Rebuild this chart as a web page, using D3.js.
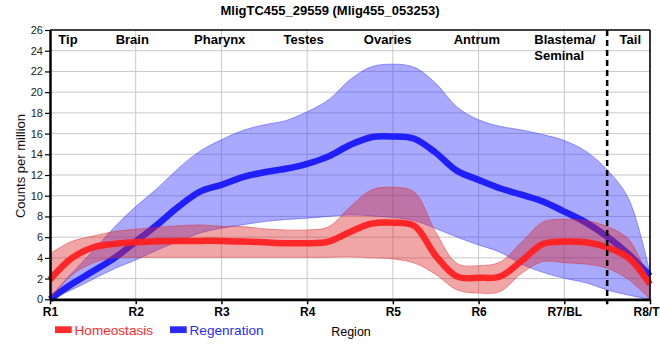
<!DOCTYPE html>
<html>
<head>
<meta charset="utf-8">
<script src="https://cdn.jsdelivr.net/npm/d3@7"></script>
<style>
  html, body { margin: 0; padding: 0; background: #fff; }
  svg { display: block; font-family: "Liberation Sans", Arial, sans-serif; }
</style>
</head>
<body>
<svg id="chart" width="660" height="360"></svg>
<script>
// ---- Data ----
const categories = ["R1", "R2", "R3", "R4", "R5", "R6", "R7/BL", "R8/T"];
const yTicks = [0, 2, 4, 6, 8, 10, 12, 14, 16, 18, 20, 22, 24, 26];
const positions = [1, 1.25, 1.5, 1.75, 2, 2.25, 2.5, 2.75, 3, 3.25, 3.5, 3.75, 4, 4.25, 4.5, 4.75,
                   5, 5.25, 5.5, 5.75, 6, 6.25, 6.5, 6.75, 7, 7.25, 7.5, 7.75, 8];

const homeoMean  = [1.9, 3.95, 5.0, 5.35, 5.5, 5.6, 5.63, 5.64, 5.64, 5.58, 5.5, 5.42, 5.41, 5.57, 6.5, 7.3,
                    7.4, 7.1, 4.2, 2.19, 2.09, 2.2, 3.7, 5.35, 5.57, 5.5, 5.02, 4.0, 1.45];
const homeoUpper = [4.4, 5.57, 6.1, 6.55, 6.76, 6.95, 7.1, 7.18, 7.05, 7.02, 6.8, 6.7, 6.7, 7.0, 8.9, 10.55,
                    10.82, 10.35, 6.5, 3.45, 3.25, 3.6, 5.5, 7.45, 7.73, 7.6, 7.02, 5.8, 1.6];
const homeoLower = [0.0, 2.3, 3.5, 4.0, 4.05, 4.05, 4.05, 4.05, 4.05, 4.05, 4.05, 4.05, 4.05, 4.05, 4.1, 4.0,
                    3.9, 3.5, 2.4, 0.9, 0.6, 0.75, 2.5, 3.64, 3.54, 3.4, 3.0, 1.9, 0.0];

const regenMean  = [0, 1.45, 2.7, 3.98, 5.57, 7.2, 8.95, 10.4, 11.05, 11.8, 12.27, 12.6, 13.08, 13.8, 14.9, 15.65,
                    15.72, 15.5, 14.15, 12.4, 11.53, 10.72, 10.1, 9.45, 8.47, 7.43, 6.05, 4.35, 2.25];
const regenUpper = [0.2, 2.5, 4.66, 6.95, 8.95, 10.7, 12.66, 14.3, 15.4, 16.3, 16.85, 17.25, 18.1, 19.26, 21.2, 22.45,
                    22.7, 22.4, 20.85, 18.55, 17.33, 16.7, 16.35, 15.9, 15.33, 14.3, 12.5, 9.7, 2.5];
const regenLower = [0, 0.9, 1.93, 2.95, 3.8, 4.75, 5.6, 6.4, 6.86, 7.2, 7.5, 7.7, 7.83, 8.0, 8.15, 8.05,
                    7.9, 7.6, 6.83, 6.0, 5.25, 4.55, 3.4, 2.6, 2.03, 1.6, 0.9, 0.4, 0];

const regionLabels = ["Tip", "Brain", "Pharynx", "Testes", "Ovaries", "Antrum", "Blastema/|Seminal", "Tail"];
const regionPos    = [1.21, 1.96, 2.98, 3.96, 4.94, 5.98, 6.65, 7.77];
const regionAnchor = ["middle", "middle", "middle", "middle", "middle", "middle", "start", "middle"];
const dividerPos = 7.5;

const seriesNames = ["Homeostasis", "Regenration"];
const seriesColors = ["#ff2a2a", "#2a2aff"];

// ---- Layout ----
const svg = d3.select("#chart");
const L = 50, R = 650, T = 30, B = 299.3;
const x = d3.scaleLinear().domain([1, 8]).range([L, R]);
const y = d3.scaleLinear().domain([0, 26]).range([B, T]);

// grid
const grid = svg.append("g");
grid.selectAll("line.h").data(yTicks.filter(v => v > 0 && v < 26)).join("line")
  .attr("x1", L).attr("x2", R).attr("y1", d => y(d)).attr("y2", d => y(d))
  .attr("stroke", "#c8c8c8").attr("stroke-width", 1);
grid.selectAll("line.v").data(categories.slice(1, -1)).join("line")
  .attr("x1", (d, i) => x(i + 2)).attr("x2", (d, i) => x(i + 2))
  .attr("y1", T).attr("y2", B)
  .attr("stroke", "#c8c8c8").attr("stroke-width", 1);

const pts = (arr) => positions.map((p, i) => [p, arr[i]]);
const bandData = (lo, hi) => positions.map((p, i) => ({ p, lo: lo[i], hi: hi[i] }));
const curve = d3.curveCatmullRom.alpha(0.5);
const area = d3.area().x(d => x(d.p)).y0(d => y(d.lo)).y1(d => y(d.hi)).curve(curve);
const edgeHi = d3.line().x(d => x(d.p)).y(d => y(d.hi)).curve(curve);
const edgeLo = d3.line().x(d => x(d.p)).y(d => y(d.lo)).curve(curve);
const line = d3.line().x(d => x(d[0])).y(d => y(d[1])).curve(curve);

const plot = svg.append("g");
function drawBand(lo, hi, fill, stroke) {
  const bd = bandData(lo, hi);
  plot.append("path").attr("d", area(bd)).attr("fill", fill).attr("fill-opacity", 0.42);
  plot.append("path").attr("d", edgeHi(bd)).attr("fill", "none").attr("stroke", stroke).attr("stroke-opacity", 0.45).attr("stroke-width", 1);
  plot.append("path").attr("d", edgeLo(bd)).attr("fill", "none").attr("stroke", stroke).attr("stroke-opacity", 0.45).attr("stroke-width", 1);
}
drawBand(regenLower, regenUpper, "#3333ff", "#3333ff");
plot.append("path").attr("d", line(pts(regenMean))).attr("fill", "none")
  .attr("stroke", "#2020ff").attr("stroke-width", 6.5);
drawBand(homeoLower, homeoUpper, "#dc2a2a", "#dc2a2a");
plot.append("path").attr("d", line(pts(homeoMean))).attr("fill", "none")
  .attr("stroke", "#ff2020").attr("stroke-opacity", 0.95).attr("stroke-width", 6.5);

// divider
svg.append("line").attr("x1", x(dividerPos)).attr("x2", x(dividerPos))
  .attr("y1", T).attr("y2", B + 5)
  .attr("stroke", "#000").attr("stroke-width", 2.5).attr("stroke-dasharray", "6,4");

// frame
svg.append("line").attr("x1", L).attr("x2", R).attr("y1", T).attr("y2", T).attr("stroke", "#000").attr("stroke-width", 1.6);
svg.append("line").attr("x1", R).attr("x2", R).attr("y1", T).attr("y2", B).attr("stroke", "#000").attr("stroke-width", 1.6);

// axes
const yAxis = d3.axisLeft(y).tickValues(yTicks).tickSize(5).tickSizeOuter(0).tickPadding(2);
const gy = svg.append("g").attr("transform", `translate(${L},0)`).call(yAxis);
gy.select(".domain").attr("stroke-width", 2.5);
gy.selectAll(".tick line").attr("stroke", "#000").attr("stroke-width", 1.2);
gy.selectAll(".tick text").attr("font-size", 11).attr("fill", "#222")
  .attr("font-family", "'Liberation Sans', Arial, sans-serif");

const xAxis = d3.axisBottom(x).tickValues([1, 2, 3, 4, 5, 6, 7, 8]).tickFormat((d, i) => categories[i])
  .tickSize(5).tickSizeOuter(0).tickPadding(3);
const gx = svg.append("g").attr("transform", `translate(0,${B})`).call(xAxis);
gx.select(".domain").attr("stroke-width", 2.8);
gx.selectAll(".tick line").attr("stroke", "#000").attr("stroke-width", 1.5);
gx.selectAll(".tick text").attr("font-size", 12).attr("font-weight", "bold").attr("fill", "#000")
  .attr("font-family", "'Liberation Sans', Arial, sans-serif");
// keep last label inside the canvas
gx.selectAll(".tick text").filter((d) => d === 8).attr("text-anchor", "end").attr("dx", 9);

// region labels
regionLabels.forEach((lab, i) => {
  const parts = lab.split("|");
  const t = svg.append("text").attr("x", x(regionPos[i])).attr("y", 44)
    .attr("text-anchor", regionAnchor[i]).attr("font-size", 13).attr("font-weight", "bold").attr("fill", "#000");
  parts.forEach((p, j) => t.append("tspan").attr("x", x(regionPos[i])).attr("dy", j === 0 ? 0 : 15.5).text(p));
});

// title
svg.append("text").attr("x", 330).attr("y", 15).attr("text-anchor", "middle")
  .attr("font-size", 13).attr("font-weight", "bold").text("MligTC455_29559 (Mlig455_053253)");

// y label
svg.append("text").attr("transform", "translate(24.5,166) rotate(-90)").attr("text-anchor", "middle")
  .attr("font-size", 13).attr("fill", "#111").text("Counts per million");

// x label
svg.append("text").attr("x", 351).attr("y", 335.5).attr("text-anchor", "middle")
  .attr("font-size", 12.5).attr("fill", "#000").text("Region");

// legend
const legX = [55, 170];
seriesNames.forEach((name, i) => {
  svg.append("rect").attr("x", legX[i]).attr("y", 326.3).attr("width", 16.7).attr("height", 6.8)
    .attr("fill", seriesColors[i]);
  svg.append("text").attr("x", legX[i] + 19.5).attr("y", 334.7).attr("font-size", 13.6)
    .attr("fill", seriesColors[i]).text(name);
});
</script>
</body>
</html>
